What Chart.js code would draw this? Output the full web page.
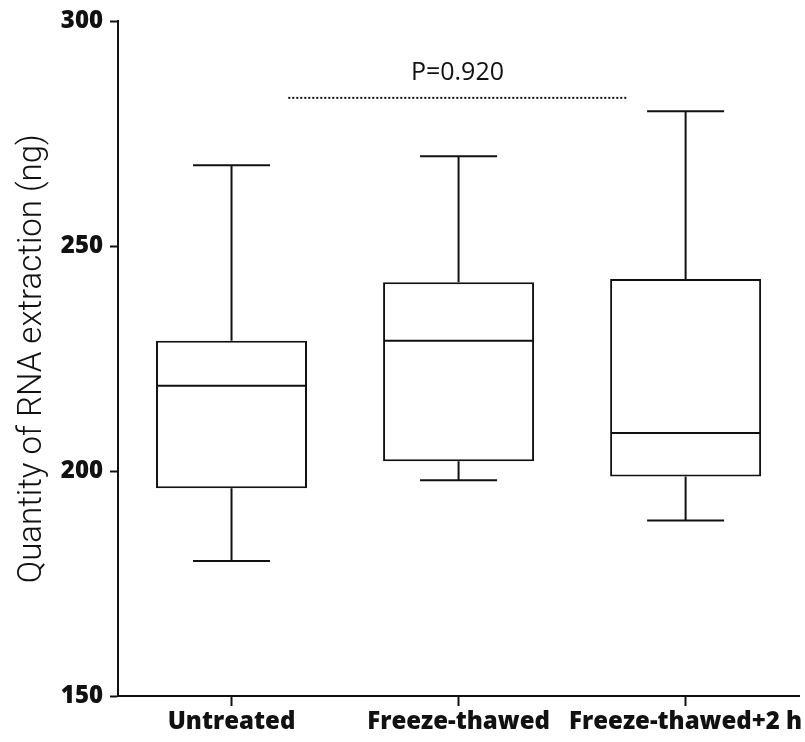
<!DOCTYPE html>
<html>
<head>
<meta charset="utf-8">
<script src="https://cdn.jsdelivr.net/npm/chart.js@4.4.1/dist/chart.umd.min.js"></script>
<style>
  html, body { margin: 0; padding: 0; background: #fff; }
</style>
</head>
<body>
<canvas id="chart" width="805" height="742"></canvas>
<script>
// RNA yield per treatment group (ng): five-number summaries
const categories = ['Untreated', 'Freeze-thawed', 'Freeze-thawed+2 h'];
const maxima = [268, 270, 280];
const upperQuartiles = [229, 242, 242.7];
const medians = [219, 229, 208.5];
const lowerQuartiles = [196.2, 202.2, 198.8];
const minima = [180, 198, 189];
const yTicks = [150, 200, 250, 300];

// Comparison bar between groups and its p-value
const pLabel = 'P=0.920';
const pLevel = 283;
const pSpan = [0.25, 1.74];

const INK = '#111';

// Whiskers, caps and medians around the quartile boxes
const boxWhiskers = {
  id: 'boxWhiskers',
  afterDatasetsDraw(chart) {
    const { ctx, scales: { x, y } } = chart;
    const meta = chart.getDatasetMeta(0);
    const line = (x1, y1, x2, y2) => {
      ctx.beginPath(); ctx.moveTo(x1, y1); ctx.lineTo(x2, y2); ctx.stroke();
    };
    ctx.save();
    ctx.strokeStyle = INK;
    ctx.lineWidth = 2;
    meta.data.forEach((bar, i) => {
      const cx = bar.x;
      const half = bar.width / 2;
      const cap = bar.width * 0.255;
      const yMax = y.getPixelForValue(maxima[i]);
      const yQ3 = y.getPixelForValue(upperQuartiles[i]);
      const yMed = y.getPixelForValue(medians[i]);
      const yQ1 = y.getPixelForValue(lowerQuartiles[i]);
      const yMin = y.getPixelForValue(minima[i]);
      line(cx - half + 1, yMed, cx + half - 1, yMed);
      line(cx, yQ3, cx, yMax);
      line(cx - cap, yMax, cx + cap, yMax);
      line(cx, yQ1, cx, yMin);
      line(cx - cap, yMin, cx + cap, yMin);
    });

    // significance line with p-value
    const yP = y.getPixelForValue(pLevel);
    const x1 = x.getPixelForValue(pSpan[0]);
    const x2 = x.getPixelForValue(pSpan[1]);
    ctx.lineWidth = 2;
    ctx.setLineDash([2, 2]);
    line(x1, yP, x2, yP);
    ctx.setLineDash([]);
    ctx.fillStyle = INK;
    ctx.font = '25px "Open Sans"';
    ctx.textAlign = 'center';
    ctx.textBaseline = 'alphabetic';
    ctx.fillText(pLabel, (x1 + x2) / 2, yP - 18);
    ctx.restore();
  }
};

new Chart(document.getElementById('chart'), {
  type: 'bar',
  data: {
    labels: categories,
    datasets: [{
      data: categories.map((_, i) => [lowerQuartiles[i], upperQuartiles[i]]),
      backgroundColor: '#fff',
      borderColor: INK,
      borderWidth: 2,
      borderSkipped: false,
      barPercentage: 0.665,
      categoryPercentage: 1
    }]
  },
  options: {
    responsive: false,
    animation: false,
    devicePixelRatio: 1,
    layout: { padding: { left: 0, top: 19, right: 5, bottom: 6 } },
    plugins: { legend: { display: false }, tooltip: { enabled: false } },
    scales: {
      x: {
        offset: true,
        afterFit: s => { s.height = 40; },
        border: { display: true, color: INK, width: 2 },
        grid: { offset: false, drawOnChartArea: false, drawTicks: true, tickLength: 10, tickWidth: 2, tickColor: INK },
        ticks: {
          color: INK, padding: 2, maxRotation: 0, autoSkip: false,
          font: { family: '"Open Sans"', size: 24, weight: 800 }
        }
      },
      y: {
        min: 150, max: 300,
        afterFit: s => { s.width = 118; },
        afterBuildTicks: s => { s.ticks = yTicks.map(v => ({ value: v })); },
        border: { display: true, color: INK, width: 2 },
        grid: { drawOnChartArea: false, drawTicks: true, tickLength: 8, tickWidth: 2, tickColor: INK },
        ticks: {
          color: INK, padding: 7,
          font: { family: '"Open Sans"', size: 24, weight: 800 }
        },
        title: {
          display: true,
          text: 'Quantity of RNA extraction (ng)',
          color: INK,
          padding: { top: 13, bottom: 0 },
          font: { family: 'Roboto', size: 33, weight: 300 }
        }
      }
    }
  },
  plugins: [boxWhiskers]
});
</script>
</body>
</html>
